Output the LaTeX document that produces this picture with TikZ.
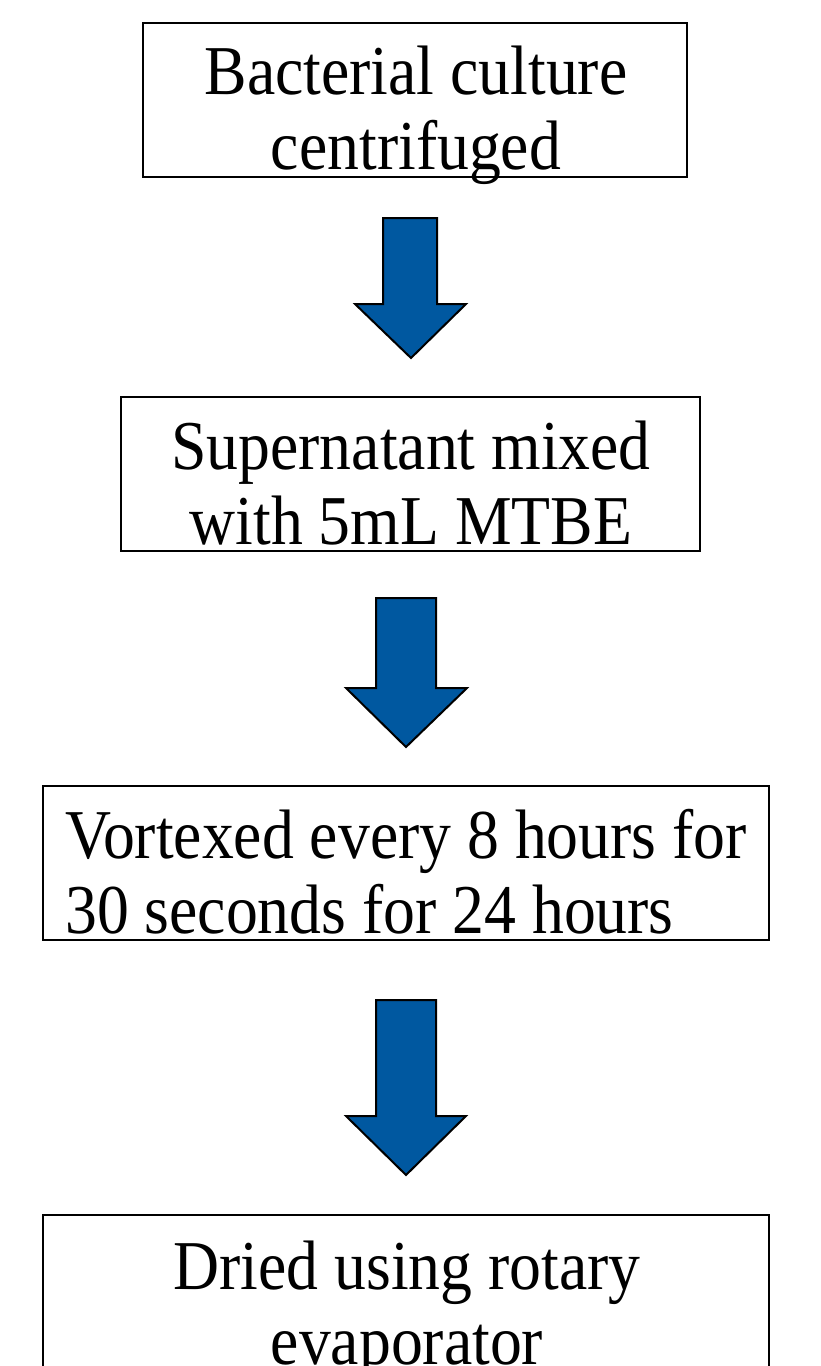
\documentclass[tikz,border=0pt]{standalone}
\usepackage{fontspec}
\setmainfont[FakeStretch=0.91]{Liberation Serif}

\definecolor{arrowblue}{RGB}{0,88,160}

\tikzset{
  stepbox/.style={draw, line width=1.5pt, minimum height=154pt, inner sep=0pt},
  steptext/.style={font=\fontsize{70pt}{75pt}\selectfont, align=center, inner sep=0pt},
  blockarrow/.style={draw, line width=2pt, fill=arrowblue, line join=miter},
}

\begin{document}
\begin{tikzpicture}[x=1pt,y=-1pt]

\useasboundingbox (0,0) rectangle (820,1366);
\clip (0,0) rectangle (820,1366);

% Step 1
\node[stepbox, minimum width=544pt] (culture) at (415,100) {};
\node[steptext] (cultureText) at (416,115) {Bacterial culture\\centrifuged};

\draw[blockarrow] (383,218) -- (437,218) -- (437,304) -- (466,304) --
	(411,358) -- (355,304) -- (383,304) -- cycle;

% Step 2
\node[stepbox, minimum width=579pt] (mixing) at (410.5,474) {};
\node[steptext] (mixingText) at (411,483) {Supernatant mixed\\with 5mL MTBE};

\draw[blockarrow] (376,598) -- (436,598) -- (436,688) -- (467,688) --
	(406,747) -- (346,688) -- (376,688) -- cycle;

% Step 3
\node[stepbox, minimum width=726pt] (vortex) at (406,863) {};
\node[steptext, align=left, anchor=west] (vortexText) at (65,872) {Vortexed every 8 hours for\\30 seconds for 24 hours};

\draw[blockarrow] (376,1000) -- (436,1000) -- (436,1116) -- (466,1116) --
	(406,1175) -- (346,1116) -- (376,1116) -- cycle;

% Step 4
\node[stepbox, minimum width=726pt] (drying) at (406,1292) {};
\node[steptext] (dryingText) at (407,1310) {Dried using rotary\\evaporator};

\end{tikzpicture}
\end{document}
